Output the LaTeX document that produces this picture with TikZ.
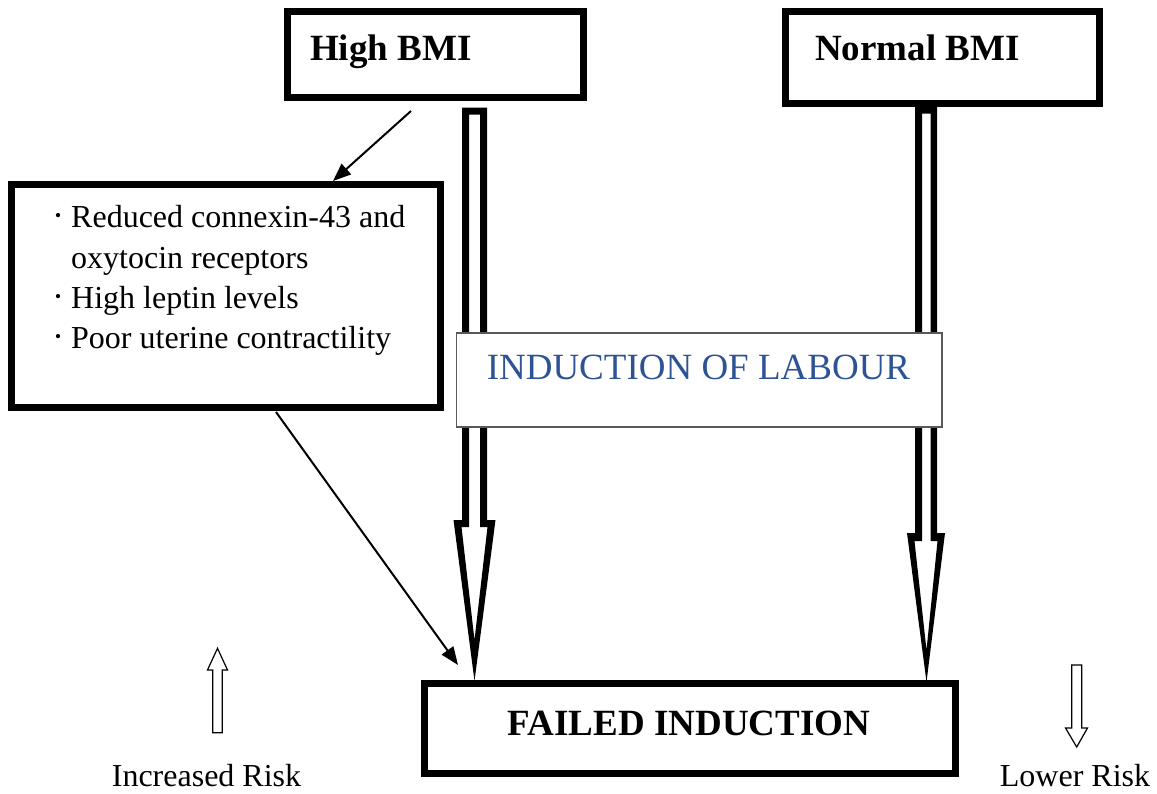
\documentclass[tikz,border=0pt]{standalone}
\usepackage{fontspec}
\setmainfont{Liberation Serif}
\usetikzlibrary{arrows.meta,calc}
\definecolor{indblue}{HTML}{2E5395}
\begin{document}
\begin{tikzpicture}[x=1pt,y=-1pt,
  thickbox/.style={draw=black,line width=7pt,fill=white,inner sep=0pt},
  thinbox/.style={draw=black!65,line width=1.2pt,fill=white,inner sep=0pt},
  bigbold/.style={font=\bfseries\fontsize{37}{44}\selectfont,inner sep=0pt},
  bigreg/.style={font=\fontsize{37}{44}\selectfont,inner sep=0pt},
  listtxt/.style={font=\fontsize{32}{40}\selectfont,inner sep=0pt,anchor=base west},
  bul/.style={font=\fontsize{36}{40}\selectfont,inner sep=0pt,anchor=base},
  thinarrow/.style={line width=2pt,-{Triangle[length=18pt,width=14pt]}},
  hollow/.style={fill=black,even odd rule},
  smallhollow/.style={draw=black,line width=1.2pt,fill=white,line join=miter}]
\useasboundingbox (0,0) rectangle (1157,793);
\fill[white] (0,0) rectangle (1157,793);

% boxes
\node[thickbox,minimum width=296pt,minimum height=86pt] (highbmi) at (435,54) {};
\node[bigbold,anchor=base west] (highbmiT) at (310,60) {High BMI};
\node[thickbox,minimum width=314pt,minimum height=92pt] (normbmi) at (942,57) {};
\node[bigbold,anchor=base west] (normbmiT) at (815,60) {Normal BMI};

% hollow arrows
\fill[hollow] (462,107.5) -- (487,107.5) -- (487,520) -- (495.5,520) -- (474.5,681) -- (453.5,520) -- (462,520) -- cycle
  (469,114.5) -- (480,114.5) -- (480,527) -- (487.5,527) -- (474.5,640) -- (461.5,527) -- (469,527) -- cycle;
\fill[hollow] (915,106.5) -- (937,106.5) -- (937,533) -- (945,533) -- (926.5,682) -- (907,533) -- (915,533) -- cycle
  (922,113.5) -- (930.5,113.5) -- (930.5,541) -- (937.5,541) -- (926.5,650) -- (914.5,541) -- (922,541) -- cycle;

\node[thinbox,minimum width=485.5pt,minimum height=94pt] (induct) at (699.25,380) {};
\node[bigreg,anchor=base,text=indblue] (inductT) at (698.5,379) {INDUCTION OF LABOUR};

\node[thickbox,minimum width=429pt,minimum height=223pt] (listbox) at (225.5,295.5) {};
\node[bul] (b1) at (58,227) {·};
\node[listtxt] (l1) at (71,227) {Reduced connexin-43 and};
\node[listtxt] (l2) at (71,268) {oxytocin receptors};
\node[bul] (b3) at (58,308) {·};
\node[listtxt] (l3) at (71,308) {High leptin levels};
\node[bul] (b4) at (58,348) {·};
\node[listtxt] (l4) at (71,348) {Poor uterine contractility};

\node[thickbox,minimum width=531pt,minimum height=90pt] (failed) at (689.5,728.5) {};
\node[bigbold,anchor=base] (failedT) at (689,735) {FAILED INDUCTION};

% thin arrows
\coordinate (a1s) at (411,111);
\coordinate (a1e) at (333,181);
\coordinate (a2s) at (276,412);
\coordinate (a2e) at (458,665);
\draw[thinarrow] (a1s) -- (a1e);
\draw[thinarrow] (a2s) -- (a2e);

% small hollow arrows
\draw[smallhollow] (212.7,732.7) -- (222.3,732.7) -- (222.3,670) -- (227.5,670) -- (217.5,648.3) -- (207.5,670) -- (212.7,670) -- cycle;
\draw[smallhollow] (1071.7,665) -- (1081.7,665) -- (1081.7,728) -- (1087.5,728) -- (1076.7,747) -- (1065.5,728) -- (1071.7,728) -- cycle;

\node[font=\fontsize{32}{40}\selectfont,inner sep=0pt,anchor=base] (incr) at (206.5,786) {Increased Risk};
\node[font=\fontsize{32}{40}\selectfont,inner sep=0pt,anchor=base] (lower) at (1075,786) {Lower Risk};
\end{tikzpicture}
\end{document}
